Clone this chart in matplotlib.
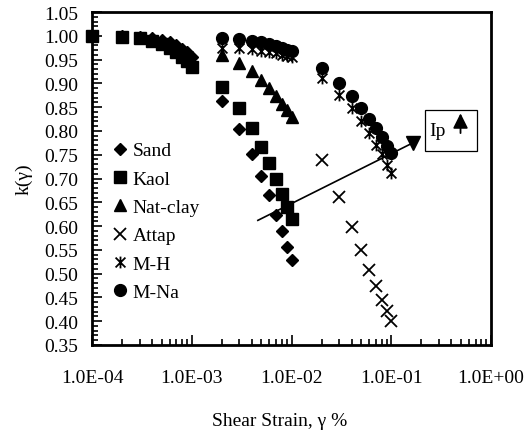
import matplotlib.pyplot as plt
import numpy as np
from matplotlib.path import Path
from matplotlib.ticker import FixedLocator, MultipleLocator, LogLocator, NullFormatter

plt.rcParams['font.family'] = ['Liberation Serif', 'DejaVu Serif']

small = [1e-4, 2e-4, 3e-4, 4e-4, 5e-4, 6e-4, 7e-4, 8e-4, 9e-4, 1e-3]
mid = [2e-3, 3e-3, 4e-3, 5e-3, 6e-3, 7e-3, 8e-3, 9e-3, 1e-2]
big = [2e-2, 3e-2, 4e-2, 5e-2, 6e-2, 7e-2, 8e-2, 9e-2, 1e-1]

sand_x = small + mid
sand_k = [1.0, 0.999, 0.998, 0.995, 0.991, 0.986, 0.980, 0.973, 0.965, 0.955,
          0.862, 0.804, 0.752, 0.705, 0.665, 0.624, 0.590, 0.556, 0.529]
kaol_x = small + mid
kaol_k = [1.0, 0.998, 0.995, 0.99, 0.983, 0.975, 0.966, 0.956, 0.946, 0.935,
          0.892, 0.848, 0.806, 0.767, 0.732, 0.700, 0.668, 0.640, 0.614]
nat_x = mid
nat_k = [0.960, 0.943, 0.925, 0.908, 0.890, 0.873, 0.857, 0.843, 0.830]
attap_x = big
attap_k = [0.739, 0.661, 0.598, 0.549, 0.508, 0.473, 0.445, 0.422, 0.400]
mh_x = mid + big
mh_k = [0.975, 0.975, 0.972, 0.969, 0.966, 0.963, 0.960, 0.957, 0.955,
        0.911, 0.876, 0.848, 0.820, 0.795, 0.771, 0.752, 0.728, 0.711]
mna_x = mid + big
mna_k = [0.996, 0.993, 0.989, 0.986, 0.982, 0.978, 0.975, 0.971, 0.967,
         0.933, 0.901, 0.873, 0.848, 0.826, 0.806, 0.788, 0.769, 0.753]

# Ip trend arrow (start, end) in data units
ip_x = [4.6e-3, 0.165]
ip_k = [0.612, 0.775]

# asterisk marker: an x with a vertical bar through it
star = Path([(-1, -1), (1, 1), (-1, 1), (1, -1), (0, -1.2), (0, 1.2)],
            [Path.MOVETO, Path.LINETO, Path.MOVETO, Path.LINETO, Path.MOVETO, Path.LINETO])

fig = plt.figure(figsize=(5.3, 4.39), dpi=100)
ax = fig.add_axes([92/530, 1-346/439, 399/530, 333/439])

ax.plot(sand_x, sand_k, 'D', color='black', ms=6.3, ls='none', label='Sand', clip_on=False)
ax.plot(kaol_x, kaol_k, 's', color='black', ms=8.2, ls='none', label='Kaol', clip_on=False)
ax.plot(nat_x, nat_k, '^', color='black', ms=8.5, ls='none', label='Nat-clay')
ax.plot(attap_x, attap_k, 'x', color='black', ms=8.5, mew=1.3, ls='none', label='Attap')
ax.plot(mh_x, mh_k, marker=star, color='black', ms=8.5, mew=1.3, ls='none', label='M-H')
ax.plot(mna_x, mna_k, 'o', color='black', ms=8.5, ls='none', label='M-Na')

ax.plot(ip_x, ip_k, color='black', lw=1.2)
ax.plot(ip_x[-1], ip_k[-1], 'v', color='black', ms=10)

ax.text(0.845, 0.645, 'Ip', transform=ax.transAxes, fontsize=14, va='center', ha='left')
ax.add_patch(plt.Rectangle((0.8346, 0.5826), 0.1303, 0.1237, transform=ax.transAxes,
                           fill=False, lw=0.9, ec='black'))
ax.annotate('', xy=(0.9236, 0.704), xytext=(0.9236, 0.628), xycoords='axes fraction',
            arrowprops=dict(arrowstyle='-|>,head_length=0.9,head_width=0.45',
                            color='black', lw=1.3))

ax.set_xscale('log')
ax.set_xlim(1e-4, 1e0)
ax.set_ylim(0.35, 1.05)
ax.xaxis.set_major_locator(FixedLocator([1e-4, 1e-3, 1e-2, 1e-1, 1e0]))
ax.xaxis.set_minor_locator(LogLocator(base=10, subs=np.arange(2, 10)))
ax.xaxis.set_minor_formatter(NullFormatter())
ax.set_xticklabels(['1.0E-04', '1.0E-03', '1.0E-02', '1.0E-01', '1.0E+00'])
ax.yaxis.set_major_locator(MultipleLocator(0.05))
ax.yaxis.set_minor_locator(MultipleLocator(0.01))
ax.yaxis.set_major_formatter(plt.FuncFormatter(lambda v, p: f'{v:.2f}'))

ax.tick_params(which='both', direction='in', width=1.2, labelsize=14)
ax.tick_params(which='major', length=7)
ax.tick_params(which='minor', length=4)
ax.tick_params(axis='x', pad=17)
ax.tick_params(axis='y', pad=10)
for sp in ax.spines.values():
    sp.set_linewidth(2)

ax.set_xlabel('Shear Strain, γ %', fontsize=14)
ax.xaxis.set_label_coords(0.471, -0.2)
ax.set_ylabel('k(γ)', fontsize=14)
ax.yaxis.set_label_coords(-0.15, 0.5)

ax.legend(loc='upper left', bbox_to_anchor=(0.045, 0.61), frameon=False, fontsize=14,
          handlelength=1.0, handletextpad=0.15, labelspacing=0.55, borderpad=0, borderaxespad=0)

fig.savefig('out.png', dpi=100)
